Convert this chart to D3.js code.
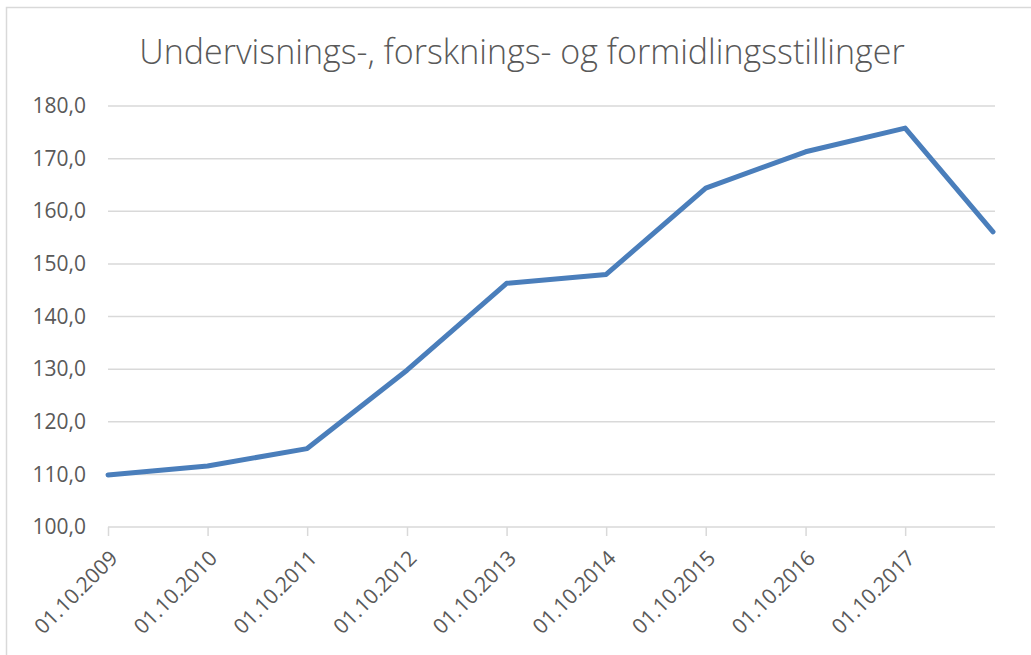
<!DOCTYPE html>
<html>
<head>
<meta charset="utf-8">
<script src="https://cdn.jsdelivr.net/npm/d3@7"></script>
<style>
  body { margin: 0; background: #fff; }
  text { font-family: "Open Sans", sans-serif; fill: #595959; }
</style>
</head>
<body>
<div id="chart"></div>
<script>
// Data
const DATES = ["2009-10-01", "2010-10-01", "2011-10-01", "2012-10-01", "2013-10-01",
  "2014-10-01", "2015-10-01", "2016-10-01", "2017-10-01", "2018-08-19"];
const VALUES = [109.9, 111.6, 114.9, 129.8, 146.3, 148.0, 164.4, 171.3, 175.8, 156.1];
const TICK_DATES = ["2009-10-01", "2010-10-01", "2011-10-01", "2012-10-01", "2013-10-01",
  "2014-10-01", "2015-10-01", "2016-10-01", "2017-10-01"];
const Y_TICKS = [100, 110, 120, 130, 140, 150, 160, 170, 180];
const TITLE = "Undervisnings-, forsknings- og formidlingsstillinger";

const W = 1031, H = 655;
const MARGIN = { top: 106, right: 36, bottom: 128, left: 108 };
const PW = W - MARGIN.left - MARGIN.right;
const PH = H - MARGIN.top - MARGIN.bottom;

const parse = d3.timeParse("%Y-%m-%d");
const fmtDate = d3.timeFormat("%d.%m.%Y");
const data = DATES.map((d, i) => ({ date: parse(d), value: VALUES[i] }));

const svg = d3.select("#chart").append("svg")
  .attr("width", W).attr("height", H);

// Chart frame (only top and left edges are visible in the picture)
svg.append("path")
  .attr("d", `M6.5,${H}V7.5H${W}`)
  .attr("fill", "none")
  .attr("stroke", "#d9d9d9")
  .attr("stroke-width", 1.5);

// Title
svg.append("text")
  .attr("x", 522)
  .attr("y", 64)
  .attr("text-anchor", "middle")
  .attr("font-size", "34px")
  .attr("font-weight", 300)
  .text(TITLE);

const g = svg.append("g")
  .attr("transform", `translate(${MARGIN.left},${MARGIN.top})`);

const x = d3.scaleTime()
  .domain(d3.extent(data, d => d.date))
  .range([0, PW - 2]);

const y = d3.scaleLinear()
  .domain([100, 180])
  .range([PH, 0]);

// Gridlines
g.append("g")
  .selectAll("line")
  .data(Y_TICKS.filter(v => v > 100))
  .join("line")
  .attr("x1", 0).attr("x2", PW)
  .attr("y1", d => y(d)).attr("y2", d => y(d))
  .attr("stroke", "#d9d9d9")
  .attr("stroke-width", 1.5);

// Y axis labels
const yAxis = g.append("g")
  .call(d3.axisLeft(y).tickValues(Y_TICKS).tickSize(0).tickPadding(22)
    .tickFormat(d => d3.format(".1f")(d).replace(".", ",")));
yAxis.select(".domain").remove();
yAxis.selectAll("text")
  .attr("font-size", "21px")
  .style("font-family", "'Open Sans', sans-serif")
  .attr("fill", "#595959");

// X axis
const xAxis = g.append("g")
  .attr("transform", `translate(0,${PH})`)
  .call(d3.axisBottom(x).tickValues(TICK_DATES.map(parse)).tickSize(9).tickFormat(fmtDate));
xAxis.select(".domain")
  .attr("d", `M0,0H${PW}`)
  .attr("stroke", "#d9d9d9")
  .attr("stroke-width", 1.5);
xAxis.selectAll(".tick line")
  .attr("stroke", "#d9d9d9")
  .attr("stroke-width", 1.5);
xAxis.selectAll("text")
  .attr("font-size", "21px")
  .style("font-family", "'Open Sans', sans-serif")
  .attr("fill", "#595959")
  .attr("text-anchor", "end")
  .attr("dx", 0)
  .attr("dy", 0)
  .attr("transform", "translate(2,24) rotate(-45)");

// Line
g.append("path")
  .datum(data)
  .attr("fill", "none")
  .attr("stroke", "#4a7ebb")
  .attr("stroke-width", 5)
  .attr("stroke-linejoin", "round")
  .attr("stroke-linecap", "round")
  .attr("d", d3.line().x(d => x(d.date)).y(d => y(d.value)));
</script>
</body>
</html>
